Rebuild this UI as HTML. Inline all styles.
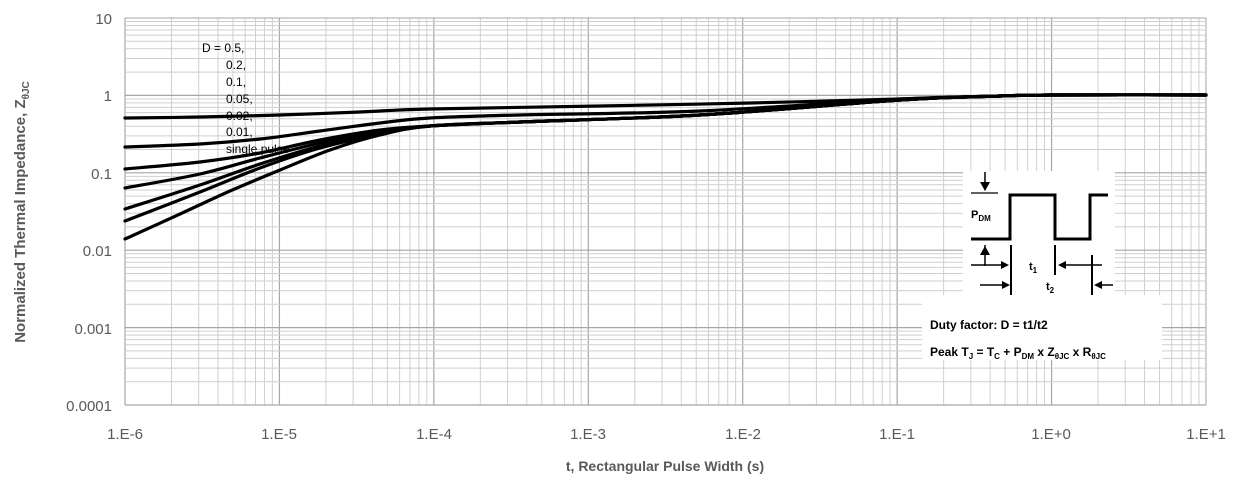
<!DOCTYPE html>
<html><head><meta charset="utf-8"><style>
body{margin:0;background:#fff;}
svg{display:block;font-family:"Liberation Sans",sans-serif;}
</style></head><body>
<svg id="s" width="1236" height="481" viewBox="0 0 1236 481" xmlns="http://www.w3.org/2000/svg">
<g id="grid"></g>
<g fill="#595959" font-size="15" text-anchor="end">
<text x="112" y="24">10</text><text x="112" y="101">1</text><text x="112" y="179">0.1</text>
<text x="112" y="256">0.01</text><text x="112" y="334">0.001</text><text x="112" y="411">0.0001</text>
</g>
<g fill="#595959" font-size="15" text-anchor="middle">
<text x="125" y="439">1.E-6</text><text x="279" y="439">1.E-5</text><text x="434" y="439">1.E-4</text>
<text x="588" y="439">1.E-3</text><text x="743" y="439">1.E-2</text><text x="897" y="439">1.E-1</text>
<text x="1051" y="439">1.E+0</text><text x="1206" y="439">1.E+1</text>
</g>
<text x="665" y="471" font-size="14" font-weight="bold" fill="#595959" text-anchor="middle">t, Rectangular Pulse Width (s)</text>
<text transform="translate(25,212) rotate(-90)" font-size="15" font-weight="bold" fill="#595959" text-anchor="middle">Normalized Thermal Impedance, Z<tspan font-size="10" dy="4">θJC</tspan></text>
<g font-size="12" fill="#000">
<text x="202" y="52">D = 0.5,</text><text x="226" y="69">0.2,</text><text x="226" y="86">0.1,</text>
<text x="226" y="103">0.05,</text><text x="226" y="120">0.02,</text><text x="226" y="136">0.01,</text>
<text x="226" y="153">single pulse</text>
</g>
<g id="curves" fill="none" stroke="#000" stroke-width="3.2" stroke-linejoin="round" stroke-linecap="round"></g>
<rect x="963" y="171" width="152" height="125" fill="#fff"/>
<rect x="922" y="295" width="240" height="65" fill="#fff"/>
<g stroke="#000" fill="none">
<polyline points="971,239 1010,239 1010,195 1055,195 1055,239 1090,239 1090,195 1108,195" stroke-width="3"/>
<line x1="971" y1="193" x2="998" y2="193" stroke-width="1.2"/>
<line x1="985" y1="172" x2="985" y2="190" stroke-width="1.5"/>
<line x1="985" y1="245" x2="985" y2="266" stroke-width="1.5"/>
<line x1="1011" y1="245" x2="1011" y2="295" stroke-width="2"/>
<line x1="1055" y1="245" x2="1055" y2="275" stroke-width="2"/>
<line x1="1092" y1="255" x2="1092" y2="295" stroke-width="2"/>
<line x1="971" y1="265" x2="1005" y2="265" stroke-width="1.5"/>
<line x1="1062" y1="265" x2="1102" y2="265" stroke-width="1.5"/>
<line x1="980" y1="285" x2="1005" y2="285" stroke-width="1.5"/>
<line x1="1098" y1="285" x2="1113" y2="285" stroke-width="1.5"/>
</g>
<g fill="#000">
<polygon points="980,182 990,182 985,191"/><polygon points="980,255 990,255 985,246"/>
<polygon points="1001,261 1009,265 1001,269"/><polygon points="1066,261 1058,265 1066,269"/>
<polygon points="1002,281 1010,285 1002,289"/><polygon points="1102,281 1094,285 1102,289"/>
</g>
<g font-weight="bold" fill="#000">
<text x="971" y="218" font-size="11">P<tspan font-size="8" dy="3">DM</tspan></text>
<text x="1029" y="270" font-size="11">t<tspan font-size="8" dy="3">1</tspan></text>
<text x="1046" y="290" font-size="11">t<tspan font-size="8" dy="3">2</tspan></text>
<text x="930" y="329" font-size="12">Duty factor: D = t1/t2</text>
<text x="930" y="356" font-size="12">Peak T<tspan font-size="8" dy="3">J</tspan><tspan dy="-3"> = T</tspan><tspan font-size="8" dy="3">C</tspan><tspan dy="-3"> + P</tspan><tspan font-size="8" dy="3">DM</tspan><tspan dy="-3"> x Z</tspan><tspan font-size="8" dy="3">θJC</tspan><tspan dy="-3"> x R</tspan><tspan font-size="8" dy="3">θJC</tspan></text>
</g>
</svg>
<script>
(function(){
var g=document.getElementById('grid'),h='';
var L=125,R=1206,T=18,B=405,dx=(R-L)/7,dy=(B-T)/5;
for(var d=0;d<7;d++)for(var k=1;k<10;k++){var x=L+dx*(d+Math.log10(k));h+='<line x1="'+x+'" y1="'+T+'" x2="'+x+'" y2="'+B+'" stroke="'+(k==1?'#a6a6a6':'#d0d0d0')+'" stroke-width="'+(k==1?1.2:1)+'"/>';}
h+='<line x1="'+R+'" y1="'+T+'" x2="'+R+'" y2="'+B+'" stroke="#a6a6a6"/>';
for(var d=0;d<5;d++)for(var k=1;k<10;k++){var y=B-dy*(d+Math.log10(k));h+='<line x1="'+L+'" y1="'+y+'" x2="'+R+'" y2="'+y+'" stroke="'+(k==1?'#a6a6a6':'#cfcfcf')+'" stroke-width="'+(k==1?1.2:1)+'"/>';}
h+='<line x1="'+L+'" y1="'+T+'" x2="'+R+'" y2="'+T+'" stroke="#a6a6a6"/>';
g.innerHTML=h;
var tail=[[430,126],[520,122],[700,115],[900,100],[1000,96],[1051,95],[1206,95]];
var C=[
[[125,118],[200,117],[280,115],[360,112],[430,109],[600,106],[750,103],[900,99],[1000,96],[1051,95],[1206,95]],
[[125,147],[200,144],[260,139],[320,131],[380,123],[430,118],[520,115],[700,111],[900,99],[1000,96],[1051,95],[1206,95]],
[[125,169],[200,162],[260,153],[320,140],[380,130]].concat(tail),
[[125,188],[200,174],[260,158],[320,143],[380,131]].concat(tail),
[[125,209],[200,185],[260,164],[320,146],[380,133]].concat(tail),
[[125,221],[200,192],[260,168],[320,148],[380,134]].concat(tail),
[[125,239],[180,214],[230,191],[280,170],[330,150],[380,135]].concat(tail)];
var s='';
C.forEach(function(p){
var d='M'+p[0][0]+','+p[0][1];
for(var i=0;i<p.length-1;i++){
var p0=p[Math.max(i-1,0)],p1=p[i],p2=p[i+1],p3=p[Math.min(i+2,p.length-1)];
var c1x=p1[0]+(p2[0]-p0[0])/6,c1y=p1[1]+(p2[1]-p0[1])/6,c2x=p2[0]-(p3[0]-p1[0])/6,c2y=p2[1]-(p3[1]-p1[1])/6;
d+=' C'+c1x+','+c1y+' '+c2x+','+c2y+' '+p2[0]+','+p2[1];}
s+='<path d="'+d+'"/>';});
document.getElementById('curves').innerHTML=s;
})();
</script>
</body></html>
